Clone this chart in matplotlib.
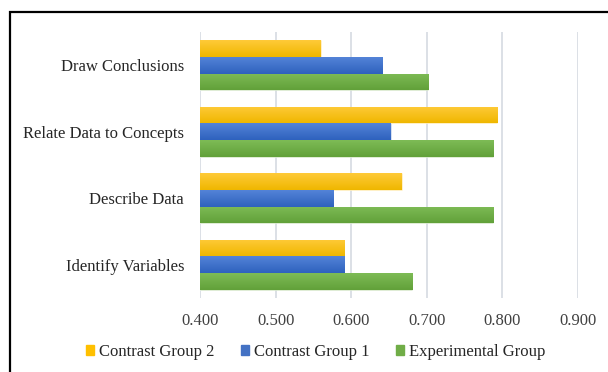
import matplotlib
matplotlib.use('Agg')
import matplotlib.pyplot as plt
import numpy as np
from matplotlib.colors import LinearSegmentedColormap
from matplotlib.patches import Rectangle

# skills, bottom to top
skills = ['Identify Variables', 'Describe Data', 'Relate Data to Concepts', 'Draw Conclusions']
experimental = [0.681, 0.788, 0.788, 0.702]
contrast1 = [0.591, 0.576, 0.652, 0.641]
contrast2 = [0.591, 0.667, 0.793, 0.560]

xticks = [0.4, 0.5, 0.6, 0.7, 0.8, 0.9]

plt.rcParams['font.family'] = ['Liberation Serif', 'DejaVu Serif']

fig = plt.figure(figsize=(6.08, 3.72), dpi=100)
ax = fig.add_axes([200/608, 1 - 298/372, 378/608, 266/372])

# series drawn bottom to top inside each group
series = [
    ('Experimental Group', experimental, '#7DBB55', '#62A13A', '#70AD47'),
    ('Contrast Group 1', contrast1, '#5383D7', '#2F62BE', '#4472C4'),
    ('Contrast Group 2', contrast2, '#FFCA38', '#EFB700', '#FFC000'),
]
h = 0.25
y = np.arange(len(skills))
handles = []
for i, (name, vals, top, bot, base) in enumerate(series):
    bars = ax.barh(y + (i - 1) * h, np.array(vals) - 0.4, left=0.4, height=h,
                   color=base, edgecolor='white', linewidth=0.4, zorder=2)
    cmap = LinearSegmentedColormap.from_list(name, [top, bot])
    grad = np.linspace(0, 1, 32).reshape(-1, 1)
    for b in bars:
        x0, y0, w, hh = b.get_x(), b.get_y(), b.get_width(), b.get_height()
        im = ax.imshow(grad, cmap=cmap, aspect='auto', origin='upper',
                       extent=(x0, x0 + w, y0, y0 + hh), zorder=2.5)
        im.set_clip_path(b)
    handles.append(Rectangle((0, 0), 1, 1, color=base, label=name))

ax.set_xlim(0.4, 0.9)
ax.set_ylim(-0.5, len(skills) - 0.5)
ax.set_xticks(xticks)
ax.set_xticklabels(['%.3f' % v for v in xticks], fontsize=12, color='#404040')
ax.set_yticks(y)
ax.set_yticklabels(skills, fontsize=12, color='#262626')
ax.tick_params(length=0)
ax.tick_params(axis='x', pad=10.5)
ax.tick_params(axis='y', pad=11.5)
ax.grid(axis='x', color='#D9DDE4', linewidth=1.3, zorder=0)
ax.set_axisbelow(True)
for s in ax.spines.values():
    s.set_visible(False)

leg = fig.legend(handles=handles[::-1], loc='center', bbox_to_anchor=(315.5/608, 1 - 352/372),
                 ncol=3, frameon=False, fontsize=12, handlelength=0.48, handleheight=0.48,
                 handletextpad=0.3, columnspacing=1.6, borderaxespad=0, borderpad=0)
for t in leg.get_texts():
    t.set_color('#262626')

# outer frame
fig.add_artist(Rectangle((10/608, -0.1), 1.2, 1 - 12/372 + 0.1, transform=fig.transFigure,
                         fill=False, edgecolor='black', linewidth=1.6))

fig.savefig('out.png', dpi=100, facecolor='white')
